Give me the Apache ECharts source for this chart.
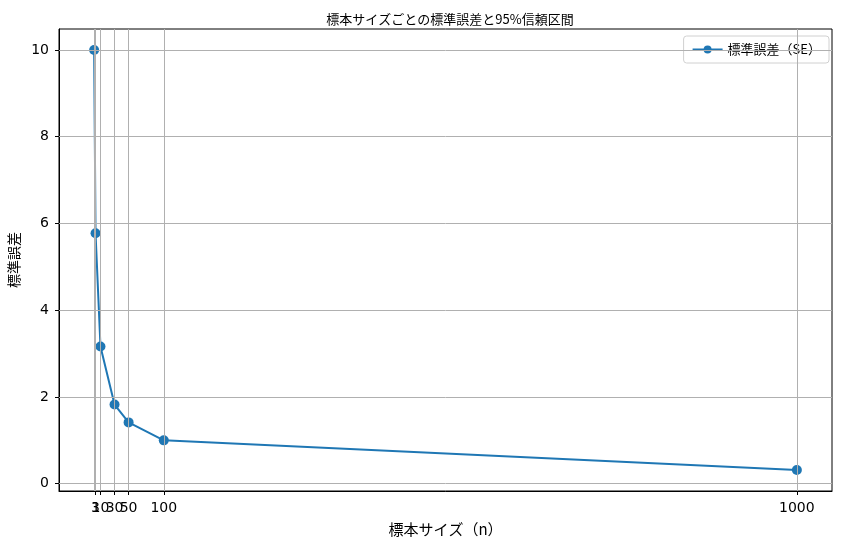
<!DOCTYPE html>
<html><head><meta charset="utf-8">
<script src="https://cdn.jsdelivr.net/npm/echarts@6/dist/echarts.min.js"></script>
<style>html,body{margin:0;padding:0;background:#fff}#c{width:843px;height:546px}</style>
</head><body><div id="c"></div>
<script>
const sampleSizes = [1, 3, 10, 30, 50, 100, 1000];
const standardErrors = [10.0, 5.774, 3.162, 1.826, 1.414, 1.0, 0.316];
const yTicks = [0, 2, 4, 6, 8, 10];
const titleText = '標本サイズごとの標準誤差と95%信頼区間';
const seriesName = '標準誤差（SE）';

const cjk = '"Noto Sans CJK JP", "DejaVu Sans", sans-serif';
const latin = '"DejaVu Sans", sans-serif';
const gridColor = '#b0b0b0';

const chart = echarts.init(document.getElementById('c'));
const xMin = -48.95, xMax = 1049.95;
const yMin = -0.168, yMax = 10.484;

chart.setOption({
  animation: false,
  title: { text: titleText, left: 445, top: 8, textAlign: 'center',
    textStyle: { fontFamily: cjk, fontSize: 13, fontWeight: 'normal', color: '#000' } },
  legend: {
    right: 14, top: 36, orient: 'vertical',
    itemWidth: 30, itemHeight: 10, itemGap: 4,
    padding: [7, 8, 7, 8],
    borderColor: '#d0d0d0', borderWidth: 1, borderRadius: 3,
    backgroundColor: 'rgba(255,255,255,0.8)',
    textStyle: { fontFamily: cjk, fontSize: 13, color: '#000' },
    data: [{ name: seriesName }]
  },
  grid: { left: 59, right: 11, top: 29, bottom: 55, outerBoundsMode: 'none', containLabel: false,
    show: true, borderColor: '#000', borderWidth: 1, backgroundColor: 'transparent' },
  xAxis: {
    type: 'value', min: xMin, max: xMax,
    name: '標本サイズ（n）', nameLocation: 'middle', nameGap: 31,
    nameTextStyle: { fontFamily: cjk, fontSize: 15, color: '#000' },
    axisLine: { show: true, onZero: false, lineStyle: { color: '#000' } },
    axisTick: { show: true, customValues: sampleSizes, length: 4, lineStyle: { color: '#000' } },
    axisLabel: { customValues: sampleSizes, formatter: v => String(v), fontFamily: latin, fontSize: 14, color: '#000', margin: 10 },
    splitLine: { show: false }
  },
  yAxis: {
    type: 'value', min: yMin, max: yMax,
    name: '標準誤差', nameLocation: 'middle', nameGap: 35, nameRotate: 90,
    nameTextStyle: { fontFamily: cjk, fontSize: 14, color: '#000' },
    axisLine: { show: true, onZero: false, lineStyle: { color: '#000' } },
    axisTick: { show: true, customValues: yTicks, length: 4, lineStyle: { color: '#000' } },
    axisLabel: { customValues: yTicks, formatter: v => String(v), fontFamily: latin, fontSize: 14, color: '#000', margin: 10 },
    splitLine: { show: false }
  },
  series: [
    {
      type: 'line', name: 'grid', silent: true, data: [], z: 1,
      markLine: {
        silent: true, symbol: 'none', animation: false,
        label: { show: false },
        lineStyle: { color: gridColor, width: 1, type: 'solid' },
        data: sampleSizes.map(v => ({ xAxis: v })).concat(yTicks.map(v => ({ yAxis: v })))
      }
    },
    {
      type: 'line', name: seriesName, z: 3,
      data: sampleSizes.map((n, i) => [n, standardErrors[i]]),
      symbol: 'circle', symbolSize: 10, showSymbol: true,
      lineStyle: { color: '#1f77b4', width: 2 },
      itemStyle: { color: '#1f77b4' }
    }
  ]
});
</script></body></html>
